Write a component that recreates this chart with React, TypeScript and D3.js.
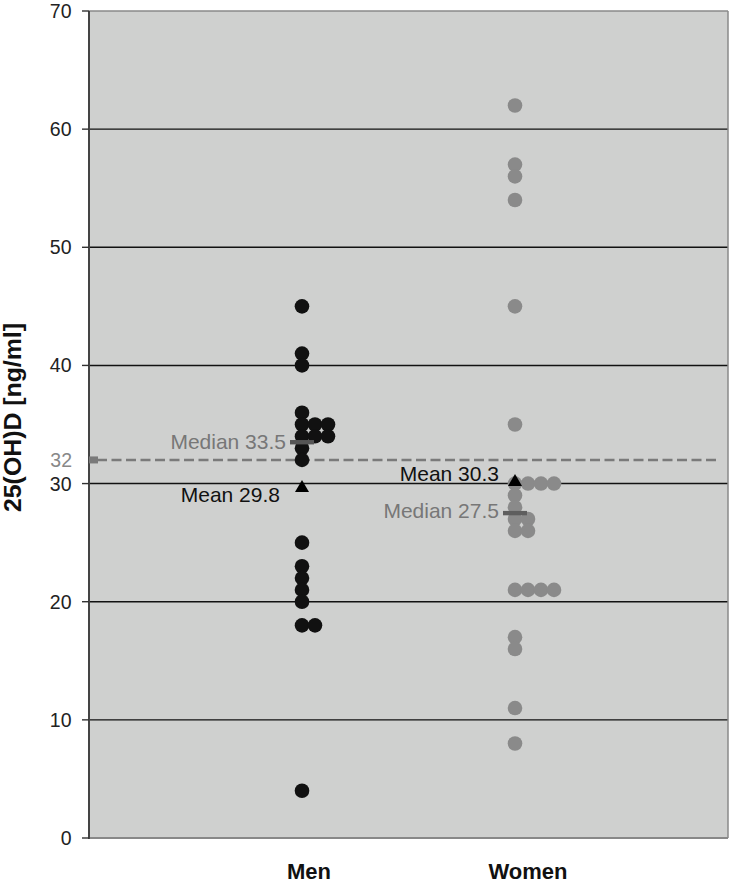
import React from "react";
import * as d3 from "d3";

const categories = ["Men", "Women"];
const menValues = [45, 41, 40, 36, 35, 35, 35, 34, 34, 34, 33, 32, 25, 23, 22, 21, 20, 18, 18, 4];
const womenValues = [62, 57, 56, 54, 45, 35, 30, 30, 30, 30, 29, 28, 27, 27, 26, 26, 21, 21, 21, 21, 17, 16, 11, 8];
const means = [29.8, 30.3];
const medians = [33.5, 27.5];
const referenceValue = 32;
const yTicks = [0, 10, 20, 30, 40, 50, 60, 70];

const W = 730;
const H = 884;
const left = 89;
const right = 728;
const top = 11;
const bottom = 838;
const font = "'Liberation Sans', Arial, Helvetica, sans-serif";

export default function App() {
  const y = d3.scaleLinear().domain([0, 70]).range([bottom, top]);
  const x = d3.scaleLinear().domain([0, 3]).range([left, right]);
  const step = 13;
  const r = 7.3;
  const series = [menValues, womenValues];
  const colors = ["#111111", "#8a8a8a"];
  const medColors = ["#555555", "#5e5e5e"];

  const dots: { cx: number; cy: number; c: string }[] = [];
  series.forEach((vals, i) => {
    const counts = new Map<number, number>();
    vals.forEach((v) => {
      const k = counts.get(v) ?? 0;
      counts.set(v, k + 1);
      dots.push({ cx: x(i + 1) + k * step, cy: y(v), c: colors[i] });
    });
  });

  const tri = (cx: number, cy: number) => {
    const w = 14, h = 12;
    return `M${cx},${cy - h / 2}L${cx + w / 2},${cy + h / 2}L${cx - w / 2},${cy + h / 2}Z`;
  };

  const medianLabelDx = [-16, -16];
  const medianLabelDy = [-1, -2.5];
  const meanLabelDx = [-22, -16];
  const meanLabelDy = [8.5, -6.5];
  const catDx = [7, 13];

  return (
    <svg width={W} height={H} style={{ position: "absolute", left: 0, top: 0 }} fontFamily={font}>
      <rect x={left} y={top} width={right - left} height={bottom - top} fill="#cfd0cf" />
      {yTicks.filter((t) => t > 0).map((t) => (
        <line key={"g" + t} x1={left} x2={right} y1={y(t)} y2={y(t)}
          stroke={t === 70 ? "#8a8a8a" : "#111"} strokeWidth={1.4} />
      ))}
      <line x1={right} x2={right} y1={top} y2={bottom} stroke="#8a8a8a" strokeWidth={1.5} />
      <line x1={left} x2={right} y1={bottom} y2={bottom} stroke="#888" strokeWidth={2.2} />
      <line x1={left} x2={left} y1={top} y2={bottom + 1} stroke="#444" strokeWidth={2} />
      {yTicks.map((t) => (
        <g key={"t" + t}>
          <line x1={left - 7} x2={left} y1={y(t)} y2={y(t)} stroke="#333" strokeWidth={1.4} />
          <text x={71.5} y={y(t)} textAnchor="end" dominantBaseline="central" fontSize={19.5} fill="#222">{t}</text>
        </g>
      ))}
      <line x1={left + 8} x2={720} y1={y(referenceValue)} y2={y(referenceValue)}
        stroke="#7a7a7a" strokeWidth={2.6} strokeDasharray="10,4.5" />
      <rect x={left} y={y(referenceValue) - 3.5} width={9} height={7} fill="#7a7a7a" />
      <text x={72} y={y(referenceValue)} textAnchor="end" dominantBaseline="central" fontSize={19.5} fill="#888">{referenceValue}</text>

      {dots.map((d, i) => (
        <circle key={i} cx={d.cx} cy={d.cy} r={r} fill={d.c} />
      ))}

      {categories.map((c, i) => (
        <g key={c}>
          <rect x={x(i + 1) - 12} y={y(medians[i]) - 2.2} width={24} height={4.4} fill={medColors[i]} />
          <path d={tri(x(i + 1), y(means[i]))} fill="#000" />
          <text x={x(i + 1) + medianLabelDx[i]} y={y(medians[i]) + medianLabelDy[i]} textAnchor="end"
            dominantBaseline="central" fontSize={21} fill="#777">{`Median ${medians[i]}`}</text>
          <text x={x(i + 1) + meanLabelDx[i]} y={y(means[i]) + meanLabelDy[i]} textAnchor="end"
            dominantBaseline="central" fontSize={21} fill="#111">{`Mean ${means[i]}`}</text>
          <text x={x(i + 1) + catDx[i]} y={879} textAnchor="middle" fontSize={22} fontWeight="bold" fill="#111">{c}</text>
        </g>
      ))}

      <text transform="translate(13,417.5) rotate(-90)" textAnchor="middle" dominantBaseline="central"
        fontSize={23} fontWeight="bold" fill="#111" textLength={189} lengthAdjust="spacingAndGlyphs">25(OH)D [ng/ml]</text>
    </svg>
  );
}
